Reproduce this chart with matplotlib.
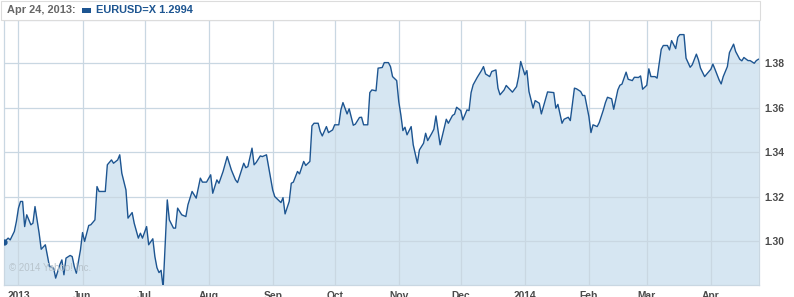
import datetime as dt
import matplotlib
matplotlib.use("Agg")
import matplotlib.pyplot as plt
import matplotlib.dates as mdates
from matplotlib.patches import Rectangle

# ---- data ----
start_date = "2013-04-24"
symbol = "EURUSD=X"
start_value = 1.2994
days = [0, 2, 3, 5, 6, 7, 8, 9, 10, 11, 13, 14, 15, 17, 18, 20, 22, 24, 25, 27, 28, 29, 30,
        32, 33, 34, 35, 37, 38, 39, 41, 42, 44, 45, 46, 49, 50, 52, 53, 55, 56, 57, 59, 60,
        62, 63, 65, 66, 67, 69, 70, 72, 73, 74, 75, 76, 77, 79, 80, 82, 83, 84, 86, 88, 89,
        91, 93, 95, 96, 98, 100, 101, 103, 104, 106, 108, 110, 112, 113, 116, 117, 118, 120,
        121, 122, 124, 125, 127, 128, 130, 131, 134, 135, 136, 138, 139, 140, 142, 143, 145,
        146, 148, 149, 150, 152, 153, 154, 156, 157, 159, 160, 162, 163, 164, 166, 167, 169,
        170, 172, 173, 174, 176, 177, 178, 180, 181, 183, 184, 186, 187, 188, 190, 191, 192,
        193, 194, 195, 197, 198, 200, 201, 203, 204, 205, 207, 208, 209, 211, 212, 214, 215,
        217, 218, 219, 221, 222, 224, 225, 226, 227, 229, 231, 232, 233, 235, 236, 238, 239,
        240, 242, 243, 245, 246, 248, 249, 250, 252, 253, 254, 256, 257, 259, 260, 261, 263,
        264, 266, 267, 268, 270, 271, 273, 274, 276, 277, 279, 280, 281, 283, 284, 285, 287,
        288, 290, 291, 292, 294, 295, 297, 298, 299, 301, 302, 304, 305, 307, 308, 309, 311,
        312, 313, 315, 316, 318, 319, 321, 322, 323, 325, 326, 327, 329, 330, 332, 333, 335,
        336, 337, 339, 340, 342, 343, 344, 346, 347, 348, 350, 351, 353, 354, 356, 357, 358,
        360, 361, 363, 364, 365]
rates = [1.2994, 1.3013, 1.3005, 1.3043, 1.3088, 1.3148, 1.3178, 1.3178, 1.3065, 1.3118,
         1.3073, 1.3080, 1.3155, 1.3035, 1.2963, 1.2983, 1.2885, 1.2878, 1.2833, 1.2893,
         1.2915, 1.2848, 1.2923, 1.2935, 1.2930, 1.2885, 1.2855, 1.2960, 1.3038, 1.2998,
         1.3070, 1.3073, 1.3095, 1.3245, 1.3223, 1.3223, 1.3343, 1.3365, 1.3350, 1.3365,
         1.3388, 1.3305, 1.3230, 1.3103, 1.3128, 1.3080, 1.3013, 1.3035, 1.3013, 1.3065,
         1.2983, 1.3010, 1.2930, 1.2880, 1.2858, 1.2868, 1.2790, 1.3185, 1.3095, 1.3058,
         1.3058, 1.3148, 1.3118, 1.3110, 1.3163, 1.3223, 1.3193, 1.3283, 1.3265, 1.3265,
         1.3298, 1.3215, 1.3275, 1.3260, 1.3313, 1.3380, 1.3320, 1.3275, 1.3263, 1.3350,
         1.3330, 1.3335, 1.3418, 1.3343, 1.3353, 1.3383, 1.3380, 1.3388, 1.3335, 1.3230,
         1.3200, 1.3173, 1.3195, 1.3122, 1.3178, 1.3260, 1.3265, 1.3313, 1.3302, 1.3358,
         1.3340, 1.3358, 1.3518, 1.3530, 1.3530, 1.3493, 1.3473, 1.3515, 1.3488, 1.3500,
         1.3523, 1.3523, 1.3590, 1.3623, 1.3572, 1.3595, 1.3521, 1.3526, 1.3556, 1.3557,
         1.3523, 1.3523, 1.3668, 1.3680, 1.3676, 1.3778, 1.3781, 1.3803, 1.3803, 1.3785,
         1.3740, 1.3722, 1.3628, 1.3568, 1.3497, 1.3512, 1.3478, 1.3515, 1.3433, 1.3350,
         1.3410, 1.3440, 1.3485, 1.3452, 1.3485, 1.3503, 1.3563, 1.3433, 1.3470, 1.3548,
         1.3530, 1.3565, 1.3571, 1.3602, 1.3587, 1.3545, 1.3590, 1.3587, 1.3668, 1.3703,
         1.3737, 1.3767, 1.3785, 1.3752, 1.3740, 1.3763, 1.3770, 1.3688, 1.3658, 1.3680,
         1.3700, 1.3680, 1.3670, 1.3695, 1.3740, 1.3808, 1.3748, 1.3767, 1.3673, 1.3598,
         1.3632, 1.3620, 1.3572, 1.3605, 1.3671, 1.3670, 1.3668, 1.3598, 1.3615, 1.3530,
         1.3548, 1.3557, 1.3542, 1.3688, 1.3685, 1.3673, 1.3655, 1.3655, 1.3560, 1.3488,
         1.3523, 1.3515, 1.3533, 1.3590, 1.3623, 1.3647, 1.3640, 1.3593, 1.3680, 1.3701,
         1.3706, 1.3760, 1.3728, 1.3722, 1.3737, 1.3736, 1.3743, 1.3683, 1.3701, 1.3775,
         1.3740, 1.3740, 1.3733, 1.3863, 1.3880, 1.3880, 1.3860, 1.3902, 1.3866, 1.3917,
         1.3929, 1.3929, 1.3823, 1.3782, 1.3793, 1.3841, 1.3815, 1.3778, 1.3740, 1.3751,
         1.3773, 1.3796, 1.3773, 1.3725, 1.3707, 1.3740, 1.3785, 1.3848, 1.3886, 1.3853,
         1.3818, 1.3811, 1.3826, 1.3812, 1.3812, 1.3800, 1.3812, 1.3818]
month_ticks = ["2013-05-01", "2013-06-01", "2013-07-01", "2013-08-01", "2013-09-01",
               "2013-10-01", "2013-11-01", "2013-12-01", "2014-01-01", "2014-02-01",
               "2014-03-01", "2014-04-01"]
month_labels = ["2013", "Jun", "Jul", "Aug", "Sep", "Oct", "Nov", "Dec", "2014", "Feb",
                "Mar", "Apr"]
y_ticks = [1.30, 1.32, 1.34, 1.36, 1.38]

# ---- styles ----
LINE = "#1d5591"
FILL = "#d6e6f2"
GRID = "#c9d7e2"
TXT = "#4a4a4a"
FONT = ["Liberation Sans", "DejaVu Sans"]

W, H = 794, 297
fig = plt.figure(figsize=(W / 100, H / 100), dpi=100)
fig.patch.set_facecolor("white")

# header box
fig.patches.append(Rectangle((1 / W, 1 - 19.5 / H), 758.5 / W, 18.5 / H,
                             transform=fig.transFigure, facecolor="white",
                             edgecolor="#dcdcdc", lw=0.8, zorder=0))

ax = fig.add_axes([4 / W, (H - 285) / H, 755 / W, 265.5 / H])
ax.set_facecolor("white")

t0 = mdates.date2num(dt.datetime.strptime(start_date, "%Y-%m-%d"))
x = [t0 + d for d in days]

ax.fill_between(x, rates, 1.27, color=FILL, lw=0, zorder=1)
ax.plot(x, rates, color=LINE, lw=1.0, zorder=3, solid_joinstyle="round")
ax.plot([x[0]], [rates[0]], "o", color=LINE, ms=3.5, zorder=4)

ax.set_xlim(t0, t0 + 365.3)
ax.set_ylim(1.2802, 1.3997)

xt = [mdates.date2num(dt.datetime.strptime(s, "%Y-%m-%d")) for s in month_ticks]
ax.set_xticks(xt)
ax.set_xticklabels(month_labels)
ax.set_yticks(y_ticks)
ax.set_yticklabels([f"{v:.2f}" for v in y_ticks])
ax.yaxis.tick_right()
ax.tick_params(axis="both", length=0, labelsize=7.4, colors=TXT)
ax.tick_params(axis="x", pad=4)
ax.tick_params(axis="y", pad=4)
for lab in ax.get_xticklabels() + ax.get_yticklabels():
    lab.set_fontweight("bold")
    lab.set_color(TXT)
    lab.set_family(FONT)

ax.grid(True, color=GRID, lw=0.9, zorder=2)
for gl in ax.get_xgridlines() + ax.get_ygridlines():
    gl.set_zorder(2)
for s in ax.spines.values():
    s.set_color(GRID)
    s.set_linewidth(0.9)

# header
fig.text(7 / W, 1 - 10 / H, "Apr 24, 2013:", fontsize=7.9, fontweight="bold",
         color="#666666", va="center", ha="left", family=FONT)
fig.patches.append(Rectangle((82 / W, 1 - 13 / H), 9 / W, 5 / H,
                             transform=fig.transFigure, color=LINE, lw=0))
fig.text(96 / W, 1 - 10 / H, f"{symbol} {start_value:.4f}", fontsize=7.9,
         fontweight="bold", color=LINE, va="center", ha="left", family=FONT)

# watermark
ax.text(0.006, 0.045, "\u00a9 2014 Yahoo! Inc.", transform=ax.transAxes, fontsize=7,
        color="#b8c4cc", ha="left", va="bottom", zorder=5, family=FONT)

fig.savefig("out.png", dpi=100)
